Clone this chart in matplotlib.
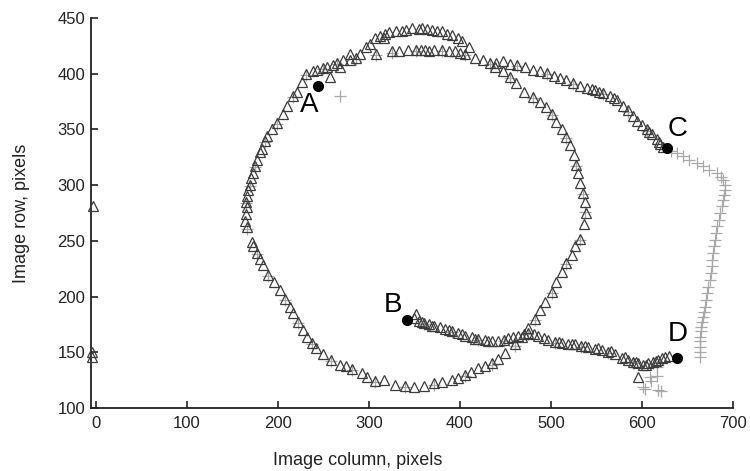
import matplotlib
matplotlib.use("Agg")
import matplotlib.pyplot as plt

plt.rcParams['font.family'] = ['Liberation Sans', 'DejaVu Sans']

# Triangle series (image column, image row)
tri_x = [231, 238, 243, 250, 257, 254, 260, 265, 268, 272, 279, 279, 286, 290, 297, 301, 307, 308, 316, 318,
         325, 330, 336, 343, 347, 352, 358, 362, 369, 371, 380, 380, 391, 388, 395, 402, 406, 410, 417, 425,
         312, 322, 341, 355, 364, 375, 386, 398, 333, 357, 366, 400,
         433, 440, 447, 455, 463, 472, 480, 488, 496, 503, 510, 517, 524, 532, 540, 548, 557, 565, 573, 579,
         585, 590, 595, 600, 605, 611, 616, 620, 623, 545, 553, 569, 608, 619,
         438, 447, 455, 462, 470, 480, 488, 495, 501, 506, 512, 517, 521, 525, 528, 530, 532, 535, 537, 538,
         536, 532, 526, 523, 517, 512, 506, 501, 493, 488, 482, 475, 468, 460, 450, 442, 435, 427, 420, 412,
         405, 398, 391, 380, 372, 361, 350, 340, 329, 316, 307, 298, 292, 281, 275, 268, 258, 250, 242, 237,
         232, 228, 222, 217, 213, 208, 202, 196, 189, 184, 180, 177, 173, 171, 166, 164, 165, 166, 165, 166,
         167, 169, 170, 173, 175, 177, 180, 182, 186, 188, 193, 199, 205, 210, 217, 221, 226,
         350, 352, 355, 361, 366, 372, 378, 384, 391, 398, 405, 413, 420, 427, 435, 442, 448, 453, 458, 464,
         470, 475, 481, 486, 492, 497, 504, 512, 519, 526, 533, 541, 548, 556, 563, 570, 578, 585, 590, 596,
         601, 607, 612, 618, 622, 625, 630, 596,
         358, 369, 388, 402, 417, 431, 509, 523, 537, 552, 566, 581, 593, 604, 615,
         -3, -4, -4]
tri_y = [400, 402, 403, 405, 397, 406, 408, 410, 406, 412, 412, 418, 414, 418, 424, 427, 432, 418, 432, 436,
         420, 438, 438, 421, 441, 421, 441, 421, 439, 421, 438, 421, 435, 420, 420, 429, 418, 424, 414, 412,
         434, 437, 439, 440, 440, 438, 436, 432, 420, 421, 420, 419,
         410, 410, 411, 409, 408, 406, 403, 402, 401, 398, 396, 394, 392, 389, 387, 385, 383, 380, 376, 371,
         367, 362, 358, 354, 350, 346, 341, 337, 334, 386, 384, 378, 348, 339,
         406, 402, 397, 392, 384, 379, 375, 370, 364, 357, 350, 343, 336, 327, 318, 311, 302, 293, 285, 275,
         265, 252, 245, 237, 230, 222, 213, 204, 195, 188, 180, 172, 164, 157, 149, 144, 140, 138, 136, 132,
         130, 127, 125, 123, 122, 120, 119, 120, 121, 125, 124, 128, 131, 135, 138, 139, 143, 148, 154, 158,
         164, 170, 177, 185, 191, 198, 206, 213, 219, 228, 234, 239, 245, 249, 262, 268, 274, 280, 285, 290,
         296, 300, 306, 311, 317, 323, 330, 332, 340, 344, 350, 356, 364, 371, 380, 384, 393,
         181, 184, 178, 176, 175, 174, 173, 171, 169, 167, 165, 164, 162, 161, 160, 160, 161, 163, 164, 165,
         166, 167, 166, 165, 163, 161, 159, 158, 157, 157, 156, 155, 153, 152, 150, 148, 145, 143, 141, 140,
         139, 140, 141, 143, 145, 146, 147, 128,
         177, 174, 170, 166, 162, 160, 159, 157, 156, 154, 151, 146, 141, 139, 142,
         281, 150, 146]

# Plus series (image column, image row)
plus_x = [632, 638, 645, 652, 660, 667, 674, 682, 687, 689, 691, 691, 690, 689, 688, 686, 685, 682, 681, 680,
          679, 678, 677, 677, 676, 675, 673, 671, 670, 669, 668, 667, 666, 665, 665, 664, 664, 664, 664, 664,
          601, 603, 610, 616, 616, 618, 621, 609, 268,
          231, 250, 265, 286, 308, 325, 352, 380, 406, 433, 463, 496, 524, 557, 585, 605,
          455, 480, 501, 517, 528, 535, 537, 532, 517, 501, 482, 460, 435, 405, 372, 340, 307, 281, 258, 237,
          222, 208, 189, 177, 166, 165, 169, 175, 186, 199, 217,
          361, 391, 420, 448, 475, 504, 533, 563, 590, 612]
plus_y = [331, 329, 326, 323, 320, 317, 314, 311, 307, 305, 300, 296, 291, 287, 281, 275, 269, 263, 257, 251,
          245, 239, 233, 227, 221, 215, 209, 203, 197, 191, 186, 182, 177, 173, 169, 164, 160, 155, 150, 146,
          119, 117, 124, 129, 137, 116, 115, 128, 380,
          399, 404, 409, 413, 417, 419, 420, 420, 417, 409, 407, 400, 391, 382, 366, 349,
          396, 378, 363, 342, 317, 292, 276, 251, 229, 203, 179, 156, 139, 129, 121, 119, 123, 134, 142, 157,
          176, 197, 218, 238, 261, 284, 299, 316, 339, 355, 379,
          175, 168, 161, 160, 166, 158, 155, 149, 140, 140]

# Labelled points
pt_names = ['A', 'B', 'C', 'D']
pt_x = [244, 342, 627, 638]
pt_y = [389, 179, 333, 145]
lbl_x = [234, 326, 639, 639]
lbl_y = [372, 192, 350, 166]

x_ticks = [0, 100, 200, 300, 400, 500, 600, 700]
y_ticks = [100, 150, 200, 250, 300, 350, 400, 450]

fig = plt.figure(figsize=(7.5, 4.71), dpi=100)
ax = fig.add_axes([0.1213, 0.1338, 0.856, 0.828])

ax.plot(plus_x, plus_y, linestyle='none', marker='+', ms=8, mew=0.9,
        color='#a8a8a8', clip_on=False, zorder=2)
ax.plot(tri_x, tri_y, linestyle='none', marker='^', ms=7.5, mew=0.9,
        mfc='none', mec='#3c3c3c', clip_on=False, zorder=3)
ax.plot(pt_x, pt_y, linestyle='none', marker='o', ms=7, color='black', zorder=4)
for n, x, y in zip(pt_names, lbl_x, lbl_y):
    ax.text(x, y, n, fontsize=20, ha='center', va='center', color='black', zorder=5)

ax.set_xlim(-5.5, 700)
ax.set_ylim(100, 450)
ax.set_xticks(x_ticks)
ax.set_yticks(y_ticks)
ax.spines['top'].set_visible(False)
ax.spines['right'].set_visible(False)
for s in ('left', 'bottom'):
    ax.spines[s].set_linewidth(1.3)
    ax.spines[s].set_color('#222222')
ax.tick_params(direction='in', length=5, width=1.2, colors='#222222', labelsize=12)
ax.tick_params(axis='x', pad=6)
ax.tick_params(axis='y', pad=4)

ax.set_xlabel('Image column, pixels', fontsize=13, color='#222222')
ax.set_ylabel('Image row, pixels', fontsize=13, color='#222222')
ax.xaxis.set_label_coords(0.415, -0.113)
ax.yaxis.set_label_coords(-0.095, 0.5)

fig.savefig('out.png', dpi=100)
